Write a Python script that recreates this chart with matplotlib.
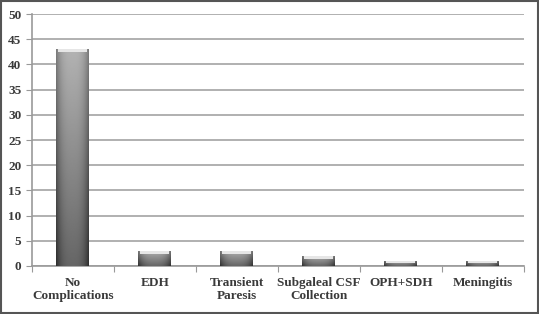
import numpy as np
import matplotlib.pyplot as plt
from matplotlib.patches import Rectangle

## DATOS

categorias = ["No\nComplications", "EDH", "Transient\nParesis",
              "Subgaleal CSF\nCollection", "OPH+SDH", "Meningitis"]
valores = [43, 3, 3, 2, 1, 1]
yticks = [0, 5, 10, 15, 20, 25, 30, 35, 40, 45, 50]

plt.rcParams['font.family'] = ['Liberation Serif', 'DejaVu Serif']

fig = plt.figure(figsize=(5.39, 3.14), dpi=100)
ax = fig.add_axes([0.059, 0.153, 0.913, 0.802])

x = np.arange(len(valores))
ancho = 0.4
barras = ax.bar(x, valores, width=ancho, color="#888888", edgecolor="none", zorder=3)

## GRADIENTE DE LAS BARRAS

h = np.abs(np.linspace(-1, 1, 64))
v = np.linspace(0, 1, 128)[:, None]
grad = 0.40 + 0.30 * v - 0.22 * h[None, :] ** 3
for b in barras:
    x0, y0 = b.get_x(), b.get_y()
    w, alto = b.get_width(), b.get_height()
    im = ax.imshow(grad, cmap="gray", vmin=0, vmax=1, aspect="auto",
                   extent=(x0, x0 + w, y0, y0 + alto), origin="lower", zorder=4)
    im.set_clip_path(b)
    # brillo arriba
    cap = min(0.6, alto * 0.35)
    ax.add_patch(Rectangle((x0 + w * 0.06, y0 + alto - cap), w * 0.88, cap,
                           facecolor="#e6e6e6", edgecolor="none", zorder=5))

ax.set_xlim(-0.5, len(valores) - 0.5)
ax.set_ylim(0, 50)
ax.set_yticks(yticks)
ax.yaxis.grid(True, color="#b0b0b0", linewidth=1.4, zorder=0)
ax.set_xticks(np.arange(-0.5, len(valores), 1.0), minor=False)
ax.set_xticklabels([])
ax.set_xticks(x, minor=True)
ax.set_xticklabels(categorias, minor=True, fontsize=9.5, fontweight="bold",
                   color="#3a3a3a", linespacing=1.15)
ax.tick_params(axis="x", which="minor", length=0, pad=8)
ax.tick_params(axis="x", which="major", length=4, color="#999999", direction="out")
ax.tick_params(axis="y", length=4, color="#999999", labelsize=9.5, labelcolor="#3a3a3a")
for t in ax.get_yticklabels():
    t.set_fontweight("bold")

for lado in ["top", "right"]:
    ax.spines[lado].set_visible(False)
for lado in ["left", "bottom"]:
    ax.spines[lado].set_color("#999999")
    ax.spines[lado].set_linewidth(1.2)

fig.patches.append(Rectangle((0.002, 0.003), 0.996, 0.994, transform=fig.transFigure,
                             fill=False, edgecolor="#555555", linewidth=1.5))

fig.savefig("out.png", dpi=100)
